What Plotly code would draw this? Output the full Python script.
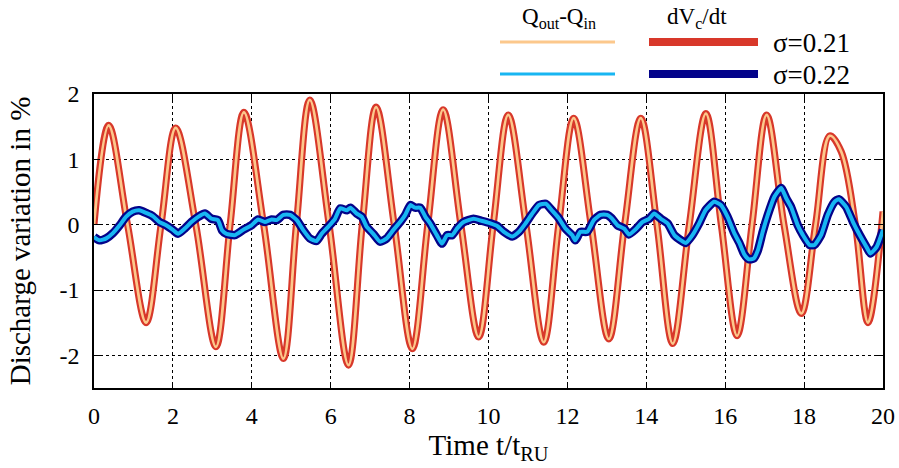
import plotly.graph_objects as go

# Discharge variation (%) versus normalised time t/t_RU
# sigma = 0.21 : Q_out - Q_in and dV_c/dt coincide
s21_t = [0.0, 0.37, 0.85, 1.32, 1.7, 2.07, 2.58, 3.09, 3.45, 3.8, 4.3, 4.8,
         5.13, 5.47, 5.96, 6.45, 6.8, 7.15, 7.61, 8.07, 8.46, 8.85, 9.3, 9.75,
         10.12, 10.5, 10.95, 11.4, 11.78, 12.16, 12.6, 13.05, 13.45, 13.86,
         14.27, 14.67, 15.09, 15.51, 15.9, 16.3, 16.68, 17.05, 17.49, 17.93,
         18.29, 18.65, 18.94, 19.3, 19.62, 20.0]
s21_v = [0.0, 1.52, 0.0, -1.5, 0.0, 1.48, 0.0, -1.87, 0.0, 1.72, 0.0, -2.05,
         0.0, 1.91, 0.0, -2.15, 0.0, 1.8, 0.0, -1.9, 0.0, 1.76, 0.0, -1.72,
         0.0, 1.68, 0.0, -1.8, 0.0, 1.63, 0.0, -1.75, 0.0, 1.63,
         0.0, -1.82, 0.0, 1.7, 0.0, -1.7, 0.0, 1.68, 0.0, -1.36,
         0.0, 1.36, 1.12, 0.0, -1.5, 0.2]

# sigma = 0.22 : Q_out - Q_in and dV_c/dt coincide
s22_t = [0.0, 0.14, 0.31, 0.48, 0.65, 0.81, 0.98, 1.15, 1.32, 1.49, 1.66, 1.83,
         2.0, 2.13, 2.3, 2.47, 2.64, 2.81, 2.98, 3.14, 3.25, 3.36, 3.57, 3.78,
         3.99, 4.16, 4.33, 4.5, 4.63, 4.8, 4.97, 5.14, 5.3, 5.47, 5.64, 5.77,
         5.94, 6.11, 6.24, 6.41, 6.5, 6.66, 6.79, 6.91, 7.08, 7.25, 7.42, 7.59,
         7.76, 7.89, 8.02, 8.14, 8.27, 8.4, 8.52, 8.69, 8.82, 8.95, 9.08, 9.2,
         9.37, 9.62, 9.82, 10.05, 10.22, 10.39, 10.6, 10.77, 10.94, 11.11, 11.28,
         11.45, 11.62, 11.78, 11.95, 12.12, 12.2, 12.33, 12.5, 12.67, 12.84,
         13.01, 13.12, 13.27, 13.44, 13.56, 13.73, 13.9, 14.07, 14.2, 14.37,
         14.54, 14.71, 14.88, 15.0, 15.17, 15.34, 15.5, 15.72, 15.89, 16.06,
         16.23, 16.36, 16.48, 16.6, 16.72, 16.83, 16.95, 17.08, 17.25, 17.42,
         17.55, 17.67, 17.84, 17.97, 18.14, 18.26, 18.43, 18.6, 18.77, 18.88,
         19.07, 19.24, 19.41, 19.58, 19.68, 19.84, 20.0]
s22_v = [-0.19, -0.24, -0.21, -0.13, -0.01, 0.12, 0.2, 0.22, 0.18, 0.13, 0.04, -0.01,
         -0.08, -0.14, -0.06, 0.04, 0.12, 0.17, 0.09, 0.07, -0.09, -0.14, -0.16, -0.08,
         -0.01, 0.08, 0.04, 0.08, 0.07, 0.15, 0.15, 0.07, -0.08, -0.21, -0.25, -0.14,
         -0.03, 0.09, 0.25, 0.22, 0.26, 0.17, 0.12, -0.03, -0.14, -0.26, -0.21, -0.08,
         0.04, 0.15, 0.3, 0.26, 0.26, 0.12, 0.02, -0.16, -0.29, -0.16, -0.16, -0.06,
         0.04, 0.09, 0.06, 0.02, -0.02, -0.11, -0.18, -0.11, 0.02, 0.17, 0.3,
         0.32, 0.21, 0.1, -0.06, -0.16, -0.24, -0.11, -0.11, 0.07, 0.15,
         0.15, 0.1, -0.01, -0.06, -0.15, -0.07, 0.04, 0.09, 0.17, 0.09,
         0.02, -0.16, -0.24, -0.28, -0.16, 0.02, 0.22, 0.35, 0.3, 0.12,
         -0.13, -0.28, -0.45, -0.53, -0.52, -0.39, -0.11, 0.15, 0.43, 0.56,
         0.4, 0.27, -0.01, -0.16, -0.31, -0.31, -0.16, 0.15, 0.35, 0.39,
         0.27, 0.04, -0.16, -0.34, -0.44, -0.34, -0.08]

x_ticks = [0, 2, 4, 6, 8, 10, 12, 14, 16, 18, 20]
y_ticks = [-2, -1, 0, 1, 2]

RED = "#d8382a"
ORANGE = "#fcc88c"
NAVY = "#03038a"
SKY = "#18b6f2"
FONT = "Liberation Serif"

fig = go.Figure()
fig.add_trace(go.Scatter(x=s21_t, y=s21_v, mode="lines",
                         line=dict(color=RED, width=7, shape="spline", smoothing=1.0)))
fig.add_trace(go.Scatter(x=s21_t, y=s21_v, mode="lines",
                         line=dict(color=ORANGE, width=2.7, shape="spline", smoothing=1.0)))
fig.add_trace(go.Scatter(x=s22_t, y=s22_v, mode="lines",
                         line=dict(color=NAVY, width=8.5, shape="spline", smoothing=0.5)))
fig.add_trace(go.Scatter(x=s22_t, y=s22_v, mode="lines",
                         line=dict(color=SKY, width=4, shape="spline", smoothing=0.5)))

W, H = 899, 468
L, R, T, B = 94, 16, 94, 80


def px(xp):
    return (xp - L) / (W - L - R)


def py(yp):
    return (H - B - yp) / (H - T - B)


# legend block above the plot
shapes = []
annotations = []
for y_row, col_a, col_b, label in [(42, ORANGE, RED, "σ=0.21"), (74, SKY, NAVY, "σ=0.22")]:
    shapes.append(dict(type="line", xref="paper", yref="paper",
                       x0=px(500), x1=px(615), y0=py(y_row), y1=py(y_row),
                       line=dict(color=col_a, width=3)))
    shapes.append(dict(type="line", xref="paper", yref="paper",
                       x0=px(649), x1=px(758), y0=py(y_row), y1=py(y_row),
                       line=dict(color=col_b, width=8)))
    annotations.append(dict(text=label, xref="paper", yref="paper",
                            x=px(771), y=py(y_row + 1), xanchor="left", yanchor="middle",
                            showarrow=False, font=dict(family=FONT, size=27, color="black")))
annotations.append(dict(text="Q<sub>out</sub>-Q<sub>in</sub>", xref="paper", yref="paper",
                        x=px(559), y=py(18), xanchor="center", yanchor="middle",
                        showarrow=False, font=dict(family=FONT, size=23, color="black")))
annotations.append(dict(text="dV<sub>c</sub>/dt", xref="paper", yref="paper",
                        x=px(697), y=py(18), xanchor="center", yanchor="middle",
                        showarrow=False, font=dict(family=FONT, size=23, color="black")))

axis_common = dict(showline=True, linecolor="black", linewidth=1.5, mirror="allticks",
                   ticks="inside", ticklen=6, tickcolor="black", tickwidth=1,
                   showgrid=True, gridcolor="black", gridwidth=1, griddash="dot",
                   zeroline=False, automargin=False,
                   tickfont=dict(family=FONT, size=24, color="black"))

fig.update_layout(
    width=W, height=H,
    margin=dict(l=L, r=R, t=T, b=B),
    paper_bgcolor="white", plot_bgcolor="white",
    font=dict(family=FONT, color="black"),
    showlegend=False,
    shapes=shapes, annotations=annotations,
    xaxis=dict(range=[0, 20], tickvals=x_ticks, ticktext=[str(v) for v in x_ticks],
               ticklabelstandoff=5,
               title=dict(text="Time t/t<sub>RU</sub>", font=dict(family=FONT, size=29, color="black"),
                          standoff=0),
               **axis_common),
    yaxis=dict(range=[-2.5, 2], tickvals=y_ticks, ticktext=[str(v) for v in y_ticks],
               ticklabelstandoff=8,
               title=dict(text="Discharge variation in %", font=dict(family=FONT, size=29, color="black"),
                          standoff=20),
               **axis_common),
)

fig.write_html("out.html")
